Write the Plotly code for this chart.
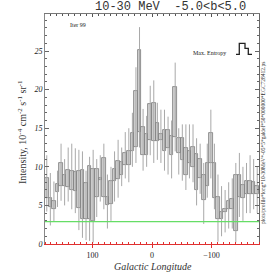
import plotly.graph_objects as go

# ---- data ----
lon = list(range(177, -180, -6))  # bin centres, 6 deg bins, l = 180 .. -180

box_lo = [5.9, 4.8, 4.6, 6.7, 7.5, 7.5, 7.4, 7.0, 6.9, 4.7,
          3.3, 3.3, 3.2, 3.0, 6.1, 8.3, 6.1, 5.0, 5.2, 8.2,
          8.4, 9.0, 10.3, 10.3, 12.0, 12.6, 14.5, 11.5, 11.5, 13.5,
          13.3, 13.3, 13.5, 12.0, 12.5, 11.5, 13.8, 11.8, 10.9, 8.9,
          10.5, 10.0, 7.0, 8.5, 5.7, 7.5, 10.5, 6.0, 3.3, 3.3,
          4.2, 4.6, 4.6, 1.7, 6.1, 6.0, 6.5, 6.5, 6.5, 6.5]
box_hi = [8.6, 5.9, 5.6, 7.8, 10.5, 8.9, 9.6, 9.5, 9.3, 9.5,
          9.6, 7.9, 10.1, 9.7, 9.7, 8.6, 11.1, 6.1, 8.1, 9.7,
          10.8, 10.6, 11.8, 12.0, 14.4, 19.8, 25.1, 15.2, 14.2, 18.1,
          18.3, 15.7, 14.3, 14.8, 14.8, 14.0, 20.4, 13.7, 13.7, 12.4,
          12.0, 12.6, 11.6, 11.0, 9.0, 10.5, 14.4, 10.5, 6.1, 4.2,
          4.6, 5.6, 5.8, 9.0, 8.9, 7.6, 8.2, 8.2, 8.0, 7.5]
err_lo = [4.2, 2.4, 2.9, 4.8, 5.6, 5.0, 5.5, 4.5, 4.0, 1.8,
          0.8, 0.5, 0.4, 0.2, 3.5, 5.5, 4.5, 2.0, 3.0, 5.5,
          6.0, 7.5, 8.5, 8.0, 10.0, 10.5, 12.5, 9.5, 10.0, 11.5,
          10.5, 10.9, 10.5, 9.5, 9.0, 8.5, 12.0, 9.0, 8.2, 7.0,
          8.5, 8.0, 5.0, 6.5, 2.6, 6.0, 8.5, 4.5, 0.3, 1.0,
          1.5, 2.0, 2.0, 0.2, 3.5, 3.0, 4.0, 4.0, 4.5, 4.0]
err_hi = [11.5, 9.2, 8.1, 9.5, 13.0, 11.0, 12.5, 13.0, 12.4, 12.2,
          12.0, 9.5, 11.3, 12.2, 11.0, 11.5, 13.0, 9.0, 10.0, 12.0,
          13.5, 12.5, 14.5, 15.0, 17.0, 22.9, 28.1, 17.5, 16.6, 20.5,
          21.2, 18.3, 17.4, 17.4, 16.5, 16.0, 23.5, 15.0, 15.5, 15.5,
          15.5, 15.5, 13.7, 13.0, 10.5, 13.0, 17.4, 13.0, 9.0, 7.5,
          7.0, 8.0, 8.5, 10.5, 11.8, 10.0, 10.5, 11.5, 11.0, 10.0]
background_level = 2.9
bin_width = 6
lon_range = [180, -180]
int_range = [0, 29.8]

# ---- geometry helpers (layout only) ----
W, H = 273, 273
ML, MR, MT, MB = 45, 14, 14, 29
PW, PH = W - ML - MR, H - MT - MB


def px(x):
    return (x - ML) / PW


def py(y):
    return 1 - (y - MT) / PH


SERIF = "Liberation Serif"

# whiskers
wx, wy = [], []
for l, a, b in zip(lon, err_lo, err_hi):
    wx += [l, l, None]
    wy += [a, b, None]

fig = go.Figure()
fig.add_trace(go.Scatter(x=wx, y=wy, mode="lines",
                         line=dict(color="#a8a8a8", width=1),
                         hoverinfo="skip"))
fig.add_trace(go.Bar(x=lon, y=[h - l for l, h in zip(box_lo, box_hi)], base=box_lo,
                     width=bin_width,
                     marker=dict(color="#d2d2d2", line=dict(color="#7a7a7a", width=0.8))))
fig.add_trace(go.Scatter(x=lon_range, y=[background_level, background_level],
                         mode="lines", line=dict(color="#66dd66", width=1.2),
                         xaxis="x2", yaxis="y2", hoverinfo="skip"))

axis_common = dict(showgrid=False, zeroline=False, showline=True)
fig.update_layout(
    width=W, height=H,
    margin=dict(l=ML, r=MR, t=MT, b=MB, pad=0),
    paper_bgcolor="white", plot_bgcolor="white",
    showlegend=False, barmode="overlay", bargap=0,
    xaxis=dict(range=lon_range, tickmode="linear", tick0=0, dtick=100,
               ticks="outside", ticklen=3, tickcolor="#e03030", linecolor="#e03030",
               minor=dict(dtick=10, ticks="inside", ticklen=2, tickcolor="#e03030"),
               tickfont=dict(family=SERIF, size=8, color="#222"),
               **axis_common),
    xaxis2=dict(range=lon_range, overlaying="x", side="top", anchor="y2",
                tickmode="linear", tick0=0, dtick=100,
                ticks="inside", ticklen=3, tickcolor="#555", linecolor="#777",
                minor=dict(dtick=10, ticks="inside", ticklen=2, tickcolor="#555"),
                showticklabels=False, **axis_common),
    yaxis=dict(range=int_range, tickmode="linear", tick0=0, dtick=5,
               ticks="inside", ticklen=4, tickcolor="#666", linecolor="#888",
               minor=dict(dtick=1, ticks="inside", ticklen=2, tickcolor="#666"),
               tickfont=dict(family=SERIF, size=8, color="#222", style="italic"),
               **axis_common),
    yaxis2=dict(range=int_range, overlaying="y", side="right", anchor="x2",
                tickmode="linear", tick0=0, dtick=5,
                ticks="inside", ticklen=4, tickcolor="#666", linecolor="#666",
                minor=dict(dtick=1, ticks="inside", ticklen=2, tickcolor="#666"),
                showticklabels=False, **axis_common),
)

ann = [
    dict(text="10-30 MeV  -5.0&lt;b&lt;5.0", x=px(170), y=py(7),
         font=dict(family="Liberation Mono", size=12, color="#333")),
    dict(text="Iter 99", x=px(68), y=py(25), xanchor="left",
         font=dict(family=SERIF, size=6, color="#222")),
    dict(text="Max. Entropy", x=px(228), y=py(53), xanchor="right",
         font=dict(family=SERIF, size=6, color="#222")),
    dict(text="Intensity, 10<sup>-4</sup> cm<sup>-2</sup> s<sup>-1</sup> sr<sup>-1</sup>",
         x=px(22), y=py(132), textangle=-90,
         font=dict(family=SERIF, size=10, color="#333")),
    dict(text="Galactic Longitude", x=px(153), y=py(266),
         font=dict(family=SERIF, size=10, color="#333", style="italic")),
    dict(text="plots/profile*long*10-30MeV*-05*5*galdef*50*000000*EGC728412.ps",
         x=px(263), y=py(143), textangle=-90,
         font=dict(family=SERIF, size=5.5, color="#333")),
]
for a in ann:
    a.update(xref="paper", yref="paper", showarrow=False)
    a.setdefault("xanchor", "center")
    a.setdefault("yanchor", "middle")
fig.update_layout(annotations=ann)

# legend glyph (step line) next to "Max. Entropy"
pts = [(236, 54.3), (239.3, 54.3), (239.3, 43.3), (245, 43.3), (245, 48.3),
       (248.3, 48.3), (248.3, 54.3), (252, 54.3)]
path = "M " + " L ".join(f"{px(x):.4f},{py(y):.4f}" for x, y in pts)
fig.add_shape(type="path", path=path, xref="paper", yref="paper",
              line=dict(color="#222", width=1.3))

fig.write_html("out.html", config={"displayModeBar": False},
               post_script="document.body.style.margin='0';document.body.style.padding='0';")
